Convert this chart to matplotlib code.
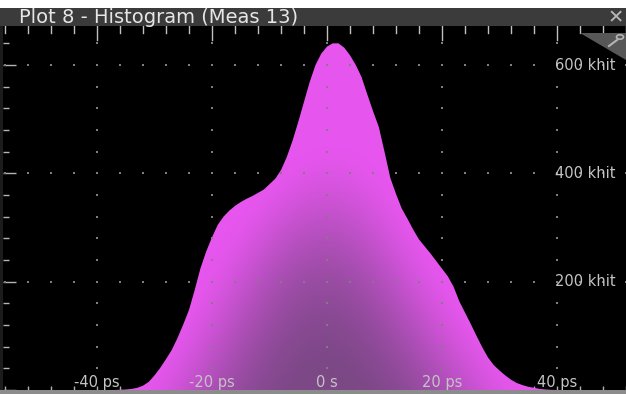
"""Scope-style histogram screenshot: Plot 8 - Histogram (Meas 13)."""

import matplotlib
matplotlib.use("Agg")
import matplotlib.pyplot as plt
import numpy as np
from matplotlib.patches import Polygon, Rectangle, Circle
from matplotlib.lines import Line2D

# Histogram: time offset (ps) -> hits (khits)
TIME_PS = list(range(-38, 41))
HITS_K = [0, 0, 0.5, 1, 2, 4, 8, 15, 27, 41,
          57, 74, 96, 121, 148, 185, 225, 256, 282, 305,
          320, 331, 340, 347, 353, 358, 364, 370, 380, 390,
          406, 430, 460, 495, 532, 569, 600, 621, 634, 640,
          640, 632, 618, 600, 578, 546, 515, 486, 440, 392,
          362, 335, 316, 296, 278, 265, 252, 238, 224, 210,
          191, 164, 143, 122, 100, 79, 60, 46, 36, 27,
          19, 13, 9, 6, 4, 2, 1, 0.3, 0]

X_LABEL_VALUES = [-40, -20, 0, 20, 40]
X_LABELS = ["-40 ps", "-20 ps", "0 s", "20 ps", "40 ps"]
Y_LABEL_VALUES = [200, 400, 600]
Y_LABELS = ["200 khit", "400 khit", "600 khit"]

TITLE = "Plot 8 - Histogram (Meas 13)"

W, H = 626, 394
BRIGHT = np.array([230, 86, 238]) / 255
DARK = np.array([124, 72, 134]) / 255


def fig_rect(x0, y0, x1, y1, color, z=5):
    """Rectangle in screenshot pixel coords (origin top-left)."""
    fig.add_artist(Rectangle((x0 / W, 1 - y1 / H), (x1 - x0) / W, (y1 - y0) / H,
                             transform=fig.transFigure, facecolor=color,
                             edgecolor="none", zorder=z))


def gauss_blur(img, sigma):
    r = int(3 * sigma)
    k = np.exp(-0.5 * (np.arange(-r, r + 1) / sigma) ** 2)
    k /= k.sum()
    out = np.apply_along_axis(lambda v: np.convolve(v, k, mode="same"), 1, img)
    out = np.apply_along_axis(lambda v: np.convolve(v, k, mode="same"), 0, out)
    return out


fig = plt.figure(figsize=(W / 100, H / 100), dpi=100, facecolor="white")
ax = fig.add_axes([3 / W, 4 / H, 623 / W, 364 / H])
ax.set_facecolor("black")
ax.set_xlim(-56.35, 52.0)
ax.set_ylim(0, 672)
for sp in ax.spines.values():
    sp.set_visible(False)

# filled shape, used as clip path for the gradient
x = np.array(TIME_PS, dtype=float)
y = np.array(HITS_K, dtype=float)
verts = np.vstack([np.column_stack([x, y]), [[x[-1], 0], [x[0], 0]]])
shape = Polygon(verts, closed=True, facecolor="none", edgecolor="none")
ax.add_patch(shape)

# gradient: bright near the outline, darker deep inside (blurred coverage)
p0 = ax.transData.transform((x[0], 0))
p1 = ax.transData.transform((x[-1], y.max() + 5))
nx, ny = int(p1[0] - p0[0]), int(p1[1] - p0[1])
gx = np.linspace(x[0], x[-1], nx)
gy = np.linspace(0, y.max() + 5, ny)
top = np.interp(gx, x, y)
inside = (gy[:, None] <= top[None, :]).astype(float)
sig = 70
pad = int(3 * sig)
big = np.zeros((ny + 2 * pad, nx + 2 * pad))
big[pad:pad + ny, pad:pad + nx] = inside
big[:pad, pad:pad + nx] = inside[0]          # extend below baseline as "inside"
f = gauss_blur(big, sig)[pad:pad + ny, pad:pad + nx]
t = np.clip((f - 0.5) / 0.47, 0, 1) ** 1.5
rgb = BRIGHT[None, None, :] * (1 - t[..., None]) + DARK[None, None, :] * t[..., None]
im = ax.imshow(rgb, origin="lower", extent=[x[0], x[-1], 0, y.max() + 5],
               aspect="auto", interpolation="bilinear", zorder=2)
im.set_clip_path(shape)

# dotted grid: dots at minor steps along the major lines
minor_x = np.arange(-56, 53, 4)
minor_y = np.arange(40, 672, 40)
gxs, gys = [], []
for xv in X_LABEL_VALUES:
    gxs += [xv] * len(minor_y)
    gys += list(minor_y)
for yv in Y_LABEL_VALUES:
    gxs += list(minor_x)
    gys += [yv] * len(minor_x)
ax.scatter(gxs, gys, s=1.5, marker="s", color="#7e7e7e", linewidths=0, zorder=3)

# ticks
ax.set_xticks(X_LABEL_VALUES)
ax.set_xticks(minor_x, minor=True)
ax.set_yticks([0] + Y_LABEL_VALUES)
ax.set_yticks(minor_y, minor=True)
ax.tick_params(axis="x", which="both", direction="in", length=3, width=1,
               color="#b0b0b0", labelbottom=False)
ax.tick_params(axis="y", which="major", direction="in", length=9, width=1,
               color="#b5b5b5", labelleft=False)
ax.tick_params(axis="y", which="minor", direction="in", length=4.5, width=1,
               color="#b5b5b5")
# ticks hanging from the top edge
top_tr = ax.get_xaxis_transform()
for xv in minor_x:
    ln = 14 if xv in X_LABEL_VALUES else 7
    ax.add_line(Line2D([xv, xv], [1, 1 - ln / 364], transform=top_tr,
                       color="#c0c0c0", lw=1, zorder=4, clip_on=False))

for xv, lab in zip(X_LABEL_VALUES, X_LABELS):
    ax.text(xv, 0.5, lab, ha="center", va="bottom", color="#c4c4c4",
            fontsize=10.5, zorder=5)
for yv, lab in zip(Y_LABEL_VALUES, Y_LABELS):
    ax.text(0.8865, yv, lab, transform=ax.get_yaxis_transform(), ha="left",
            va="center", color="#c4c4c4", fontsize=10.5, zorder=5)

# window chrome
fig_rect(0, 8, W, 26, "#3b3b3b")
fig_rect(0, 26, 3, 390, "#1c1c1c")
fig_rect(0, 390, W, H, "#8c8c8c")
fig.text(19 / W, 1 - 17.5 / H, TITLE, color="#e6e6e6", fontsize=14,
         ha="left", va="center", zorder=6)
fig.text(616 / W, 1 - 18 / H, "\u2715", color="#b8b8b8", fontsize=14,
         ha="center", va="center", zorder=6)
fig.add_artist(Polygon([(580 / W, 1 - 33 / H), (1, 1 - 33 / H), (1, 1 - 60 / H)],
                       closed=True, transform=fig.transFigure,
                       facecolor="#575757", edgecolor="none", zorder=6))
fig.add_artist(Circle((620 / W, 1 - 37 / H), 3.5 / W, transform=fig.transFigure,
                      facecolor="none", edgecolor="#b5b5b5", lw=1.2, zorder=7))
fig.add_artist(Line2D([609 / W, 617 / W], [1 - 46 / H, 1 - 40 / H],
                      transform=fig.transFigure, color="#b5b5b5", lw=1.5, zorder=7))

fig.savefig("out.png", dpi=100, facecolor="white")
